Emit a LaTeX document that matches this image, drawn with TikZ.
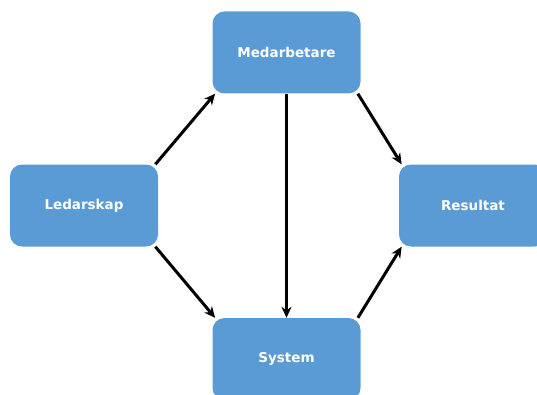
\documentclass[tikz,border=0pt]{standalone}
\usepackage{fontspec}
\setmainfont{DejaVu Sans}
\usepackage{xcolor}
\usetikzlibrary{arrows.meta}
\definecolor{box_blue}{HTML}{5B9BD5}

\begin{document}
\begin{tikzpicture}[x=1pt, y=1pt]
            % Styles
            \tikzstyle{block} = [rectangle, rounded corners=12pt, fill=box_blue, text=white, font=\fontsize{13.5}{16}\selectfont\bfseries, minimum width=148pt, minimum height=82pt]
            \tikzstyle{link} = [-{Stealth[length=11pt, width=10pt]}, line width=3pt]

            \useasboundingbox (0,0) rectangle (537,394);
            \clip (0,0) rectangle (537,394);

            % Nodes
            \node[block] (led) at (84,188.5) {Ledarskap};
            \node[block] (med) at (286.5,341.5) {Medarbetare};
            \node[block] (res) at (473,188.5) {Resultat};
            \node[block] (sys) at (286.5,35) {System};

            % Edges
            \draw[link] (led.30) -- (med.210);
            \draw[link] (led.330) -- (sys.150);
            \draw[link] (med.south) -- (sys.north);
            \draw[link] (med.330) -- (res.150);
            \draw[link] (sys.30) -- (res.210);
        \end{tikzpicture}
\end{document}
